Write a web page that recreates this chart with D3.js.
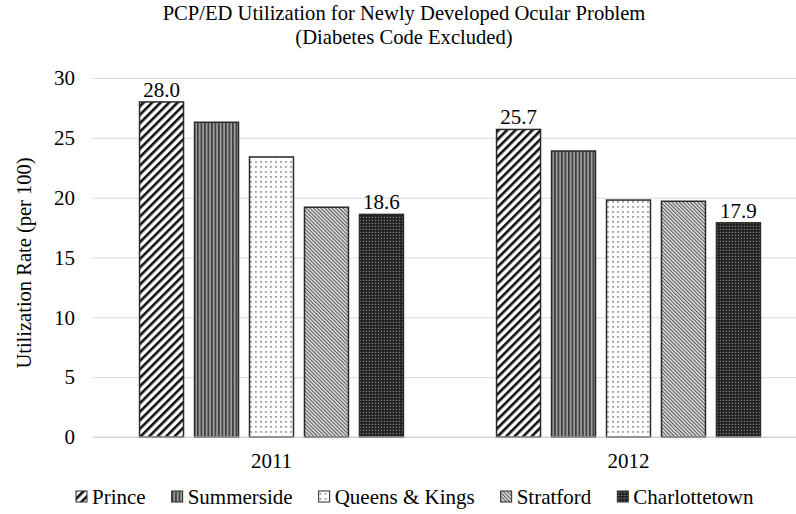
<!DOCTYPE html>
<html>
<head>
<meta charset="utf-8">
<script src="https://cdn.jsdelivr.net/npm/d3@7"></script>
<style>
  html, body { margin: 0; padding: 0; background: #fff; }
  svg text { font-family: "Liberation Serif", "Times New Roman", serif; fill: #000; }
</style>
</head>
<body>
<svg id="chart" width="796" height="514"></svg>
<script>
// Utilization rates per 100, by region and year
const years = ["2011", "2012"];
const regions = ["Prince", "Summerside", "Queens & Kings", "Stratford", "Charlottetown"];
const values2011 = [28.0, 26.3, 23.4, 19.2, 18.6];
const values2012 = [25.7, 23.9, 19.8, 19.7, 17.9];
const yTicks = [0, 5, 10, 15, 20, 25, 30];
// which bars carry a value label
const labelled = ["Prince", "Charlottetown"];

const seriesByYear = { "2011": values2011, "2012": values2012 };

const svg = d3.select("#chart");
const margin = { left: 93, right: 807, top: 78, bottom: 437 };
const fontSize = 21;

// ---- fill patterns ----
const defs = svg.append("defs");
const patternIds = {};

function makePattern(id, w, h, transform, draw) {
  const p = defs.append("pattern")
    .attr("id", id)
    .attr("patternUnits", "userSpaceOnUse")
    .attr("width", w).attr("height", h);
  if (transform) p.attr("patternTransform", transform);
  draw(p, w, h);
  return "url(#" + id + ")";
}

patternIds["Prince"] = makePattern("pPrince", 6, 6, "rotate(45)", (p, w, h) => {
  p.append("rect").attr("width", w).attr("height", h).attr("fill", "#fff");
  p.append("rect").attr("x", 0).attr("width", 2.6).attr("height", h).attr("fill", "#111");
});
patternIds["Summerside"] = makePattern("pSummer", 3.5, 4, null, (p, w, h) => {
  p.append("rect").attr("width", w).attr("height", h).attr("fill", "#9c9c9c");
  p.append("rect").attr("x", 0).attr("width", 1.6).attr("height", h).attr("fill", "#3c3c3c");
});
patternIds["Queens & Kings"] = makePattern("pQueens", 5, 5, null, (p, w, h) => {
  p.append("rect").attr("width", w).attr("height", h).attr("fill", "#fff");
  p.append("rect").attr("x", 1).attr("y", 1).attr("width", 1.8).attr("height", 1.8).attr("fill", "#999");
});
patternIds["Stratford"] = makePattern("pStrat", 2.6, 4, "rotate(-45)", (p, w, h) => {
  p.append("rect").attr("width", w).attr("height", h).attr("fill", "#e6e6e6");
  p.append("rect").attr("x", 0).attr("width", 1.1).attr("height", h).attr("fill", "#555");
});
patternIds["Charlottetown"] = makePattern("pCharl", 3, 3, null, (p, w, h) => {
  p.append("rect").attr("width", w).attr("height", h).attr("fill", "#222");
  p.append("rect").attr("x", 0.8).attr("y", 0.8).attr("width", 1.2).attr("height", 1.2).attr("fill", "#8a8a8a");
});

// ---- scales ----
const y = d3.scaleLinear().domain([0, 30]).range([margin.bottom, margin.top]);
const x0 = d3.scaleBand().domain(years).range([margin.left, margin.right])
  .paddingInner(0.23).paddingOuter(0.115);
const x1 = d3.scaleBand().domain(regions).range([0, x0.bandwidth()])
  .paddingInner(0.2).paddingOuter(0.1);

// ---- title ----
const title = svg.append("text").attr("text-anchor", "middle").attr("font-size", 20.6);
title.append("tspan").attr("x", 404).attr("y", 20).text("PCP/ED Utilization for Newly Developed Ocular Problem");
title.append("tspan").attr("x", 404).attr("y", 44).text("(Diabetes Code Excluded)");

// ---- gridlines and y axis ----
const yAxis = d3.axisLeft(y).tickValues(yTicks).tickSize(-(margin.right - margin.left)).tickPadding(18);
const gy = svg.append("g").attr("transform", `translate(${margin.left},0)`).call(yAxis);
gy.select(".domain").remove();
gy.selectAll(".tick line").attr("stroke", "#d9d9d9").attr("stroke-width", 1);
gy.selectAll(".tick text").attr("font-size", fontSize).attr("font-family", "Liberation Serif, serif").attr("fill", "#000");

svg.append("text")
  .attr("transform", `translate(24,263) rotate(-90)`)
  .attr("text-anchor", "middle").attr("dy", "0.35em").attr("font-size", 20.5)
  .text("Utilization Rate (per 100)");

// ---- bars ----
const groups = svg.append("g").selectAll("g").data(years).join("g")
  .attr("transform", d => `translate(${x0(d)},0)`);

groups.selectAll("rect")
  .data(yr => regions.map((r, i) => ({ region: r, value: seriesByYear[yr][i] })))
  .join("rect")
  .attr("x", d => x1(d.region))
  .attr("y", d => y(d.value))
  .attr("width", x1.bandwidth())
  .attr("height", d => y(0) - y(d.value))
  .attr("fill", d => patternIds[d.region])
  .attr("stroke", "#2a2a2a").attr("stroke-width", 1.5);

groups.selectAll("text.val")
  .data(yr => regions.map((r, i) => ({ region: r, value: seriesByYear[yr][i] }))
    .filter(d => labelled.includes(d.region)))
  .join("text").attr("class", "val")
  .attr("x", d => x1(d.region) + x1.bandwidth() / 2)
  .attr("y", d => y(d.value) - 5)
  .attr("text-anchor", "middle").attr("font-size", fontSize)
  .text(d => d.value.toFixed(1));

// ---- x axis ----
svg.append("line")
  .attr("x1", margin.left).attr("x2", margin.right)
  .attr("y1", y(0)).attr("y2", y(0))
  .attr("stroke", "#d0d0d0").attr("stroke-width", 1.2);
const xAxis = d3.axisBottom(x0).tickSize(0).tickPadding(16);
const gx = svg.append("g").attr("transform", `translate(0,${y(0)})`).call(xAxis);
gx.select(".domain").remove();
gx.selectAll(".tick text").attr("font-size", fontSize).attr("font-family", "Liberation Serif, serif").attr("fill", "#000");

// ---- legend: swatch + label, entries laid out left to right ----
const legend = svg.append("g");
let cursor = 76;
regions.forEach(r => {
  const item = legend.append("g").attr("transform", `translate(${cursor},497)`);
  item.append("rect")
    .attr("x", 0).attr("y", -6).attr("width", 11).attr("height", 11)
    .attr("fill", patternIds[r]).attr("stroke", "#2a2a2a").attr("stroke-width", 1);
  const t = item.append("text")
    .attr("x", 16).attr("y", 0).attr("dy", "0.35em").attr("font-size", fontSize)
    .text(r);
  cursor += 16 + t.node().getComputedTextLength() + 26;
});
</script>
</body>
</html>
